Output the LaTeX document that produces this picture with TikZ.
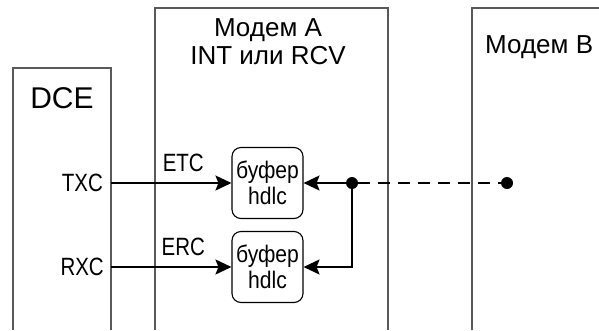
\documentclass[tikz,border=0pt]{standalone}
\usepackage{graphicx}
\usepackage{fontspec}
\setmainfont{Liberation Sans}
\usetikzlibrary{arrows.meta,positioning}
% narrow labels, as in the drawing
\newcommand{\sqz}[2][0.82]{\scalebox{#1}[1]{#2}}

\begin{document}
\begin{tikzpicture}[x=1pt, y=-1pt, >={Stealth[length=16pt, width=15pt, inset=3pt]},
    wall/.style={line width=1.2pt, black!65},
    title/.style={inner sep=0pt, font=\fontsize{26}{28}\selectfont},
    sig/.style={inner sep=0pt, font=\fontsize{25}{28}\selectfont},
    buffer/.style={draw, line width=1.1pt, rounded corners=9pt, minimum width=71pt,
        minimum height=71pt, align=center, inner sep=0pt, font=\fontsize{24}{26}\selectfont},
    wire/.style={line width=2pt},
    dot/.style={circle, fill, inner sep=0pt, minimum size=12pt}]
    \useasboundingbox (0,0) rectangle (599,330);
    % boxes, open at the bottom
    \draw[wall] (13,330) |- (111,68) -- (111,330);
    \draw[wall] (155,330) |- (388,8) -- (388,330);
    \draw[wall] (472,330) |- (599,8);
    % titles
    \node[inner sep=0pt, anchor=base, font=\fontsize{30}{32}\selectfont] (dce) at (62,108) {DCE};
    \node[title, anchor=north, align=center] (modemA) at (268,18) {Модем A\\INT или RCV};
    \node[title, anchor=base west] (modemB) at (485,53) {Модем B};
    % DCE clock outputs
    \node[sig, anchor=base east] (txc) at (103,191.5) {\sqz{TXC}};
    \node[sig, anchor=base east] (rxc) at (104,275.5) {\sqz{RXC}};
    \coordinate (txcport) at (111,183);
    \coordinate (rxcport) at (111,267);
    % hdlc buffers
    \node[buffer] (buf1) at (267.5,183) {\sqz[0.88]{буфер}\\\sqz[0.88]{hdlc}};
    \node[buffer] (buf2) at (267.5,267) {\sqz[0.88]{буфер}\\\sqz[0.88]{hdlc}};
    % clock wires
    \draw[wire, ->] (txcport) -- (buf1.west) node[sig, pos=0.6, above=10pt] (etc) {\sqz{ETC}};
    \draw[wire, ->] (rxcport) -- (buf2.west) node[sig, pos=0.6, above=10pt] (erc) {\sqz{ERC}};
    % clock from modem B
    \node[dot] (junct) at (352,183) {};
    \node[dot] (remote) at (507,183) {};
    \draw[wire, ->] (junct) -- (buf1.east);
    \draw[wire, ->] (junct) |- (buf2.east);
    \draw[wire, dash pattern=on 12pt off 8pt] (junct) -- (remote);
\end{tikzpicture}
\end{document}
